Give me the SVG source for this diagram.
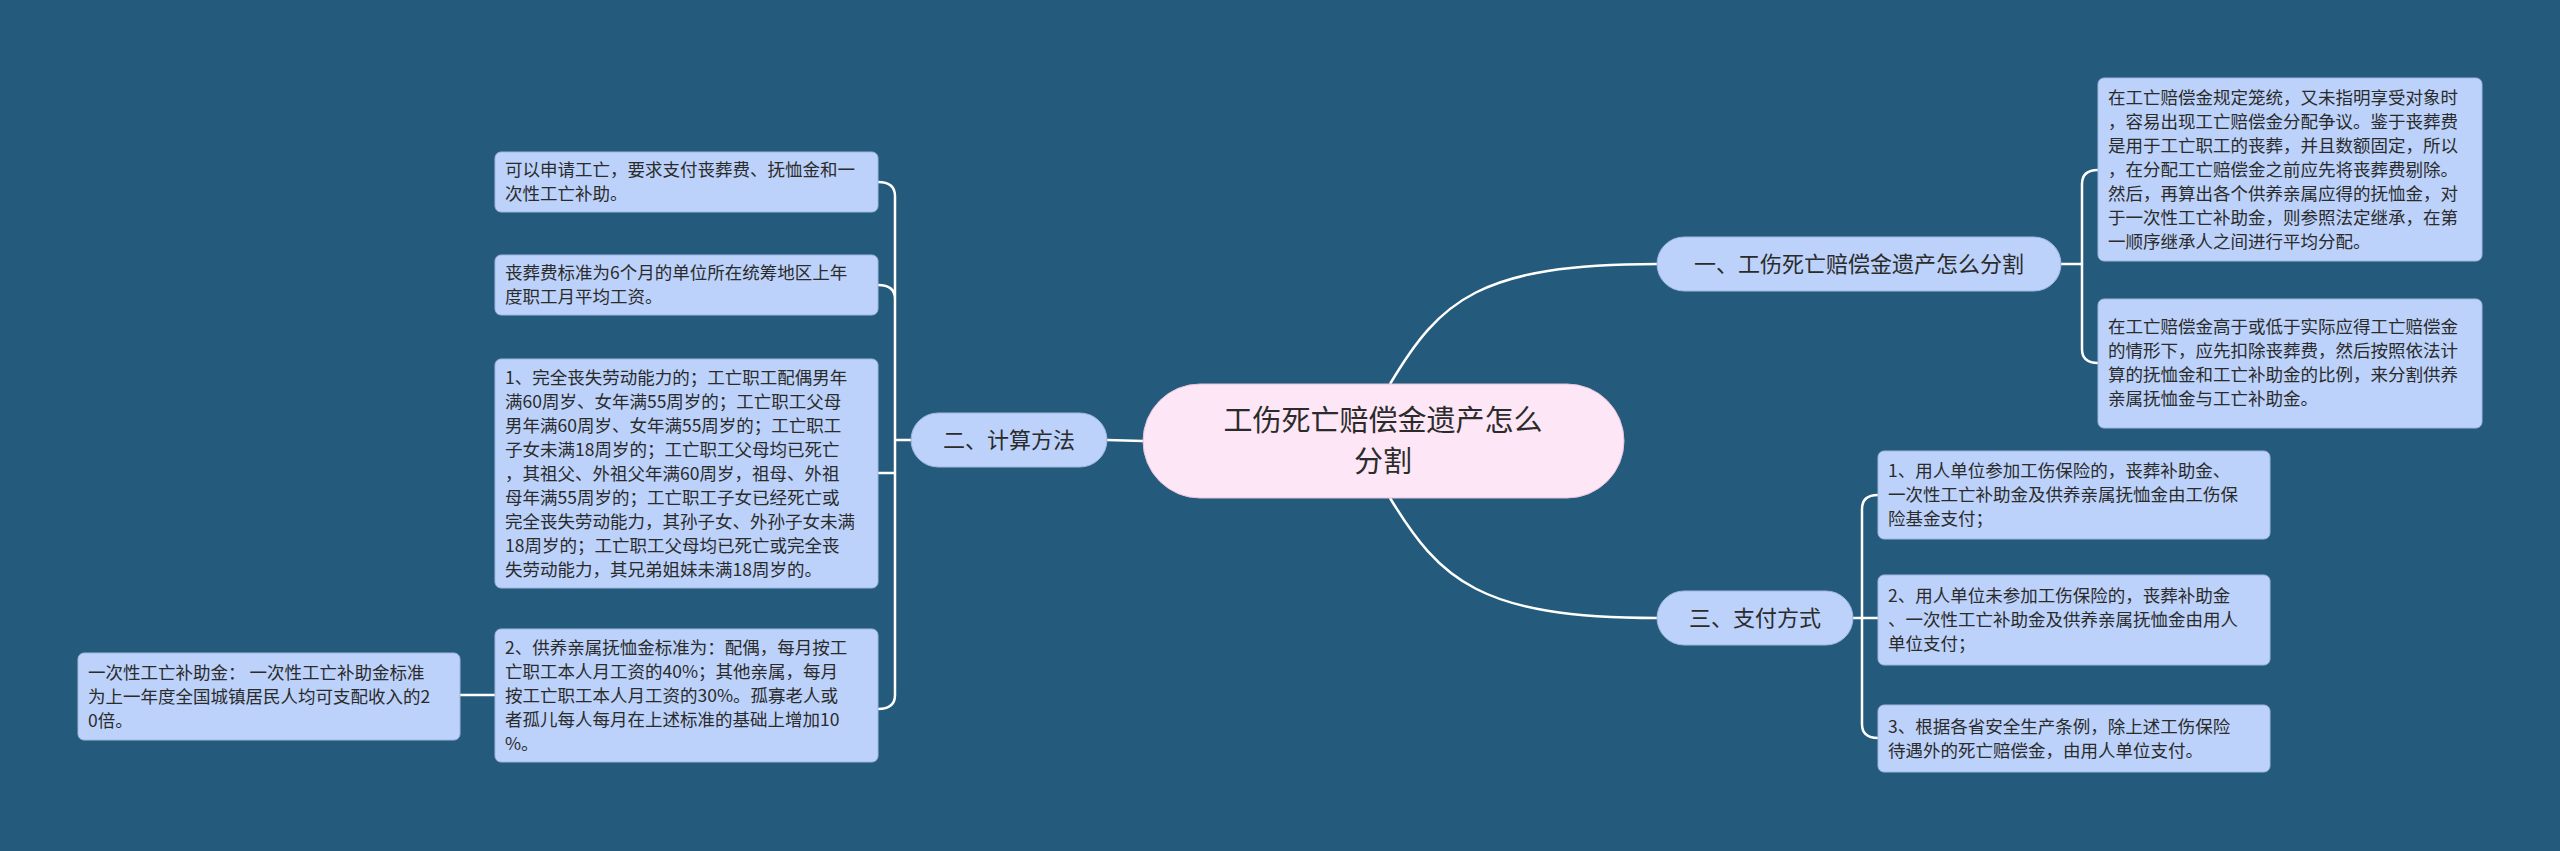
<svg xmlns="http://www.w3.org/2000/svg" width="2560" height="851" viewBox="0 0 2560 851">
<style>
.t{font-family:"Noto Sans CJK SC",sans-serif;font-size:17.5px;fill:#2b2b2b}
.p{font-family:"Noto Sans CJK SC",sans-serif;font-size:22px;fill:#2b2b2b}
.b{fill:#bcd2fa;stroke:#9fb6e0;stroke-width:1}
.c{fill:none;stroke:#ffffff;stroke-width:2.5}
</style>
<rect width="2560" height="851" fill="#245a7b"/>
<g id="connectors">
<path class="c" d="M1390,384 C1440,300 1480,264 1657,264"/>
<path class="c" d="M1390,498 C1440,580 1480,618 1657,618"/>
<path class="c" d="M1143,441 L1107,440"/>
<path class="c" d="M2061,264 H2082 M2082,264 V184 Q2082,170 2098,170 M2082,264 V349 Q2082,363 2098,363"/>
<path class="c" d="M1853,618 H1862 M1862,618 V509 Q1862,495 1878,495 M1862,618 V710 M1862,618 V724 Q1862,738 1878,738 M1862,618 H1878"/>
<path class="c" d="M911,440 H895 M895,440 V196 Q895,182 878,182 M895,440 V299 Q895,285 878,285 M895,440 V695 Q895,709 878,709 M895,440 V473 H878"/>
<path class="c" d="M495,695 H460"/>
</g>
<g id="center">
<rect x="1143" y="384" width="481" height="114" rx="57" fill="#fde6f5" stroke="#e9c4dc"/>
<text class="p" style="font-size:29px" x="1383" y="431" text-anchor="middle">工伤死亡赔偿金遗产怎么</text>
<text class="p" style="font-size:29px" x="1383" y="472" text-anchor="middle">分割</text>
</g>
<g id="b1">
<rect class="b" x="1657" y="237" width="404" height="54" rx="27"/>
<text class="p" x="1859" y="272" text-anchor="middle">一、工伤死亡赔偿金遗产怎么分割</text>
</g>
<g id="b1c1">
<rect class="b" x="2098" y="78" width="384" height="183" rx="6"/>
<text class="t" x="2108" y="104">在工亡赔偿金规定笼统，又未指明享受对象时</text>
<text class="t" x="2108" y="128">，容易出现工亡赔偿金分配争议。鉴于丧葬费</text>
<text class="t" x="2108" y="152">是用于工亡职工的丧葬，并且数额固定，所以</text>
<text class="t" x="2108" y="176">，在分配工亡赔偿金之前应先将丧葬费剔除。</text>
<text class="t" x="2108" y="200">然后，再算出各个供养亲属应得的抚恤金，对</text>
<text class="t" x="2108" y="224">于一次性工亡补助金，则参照法定继承，在第</text>
<text class="t" x="2108" y="248">一顺序继承人之间进行平均分配。</text>
</g>
<g id="b1c2">
<rect class="b" x="2098" y="299" width="384" height="129" rx="6"/>
<text class="t" x="2108" y="333">在工亡赔偿金高于或低于实际应得工亡赔偿金</text>
<text class="t" x="2108" y="357">的情形下，应先扣除丧葬费，然后按照依法计</text>
<text class="t" x="2108" y="381">算的抚恤金和工亡补助金的比例，来分割供养</text>
<text class="t" x="2108" y="405">亲属抚恤金与工亡补助金。</text>
</g>
<g id="b3">
<rect class="b" x="1657" y="591" width="196" height="54" rx="27"/>
<text class="p" x="1755" y="626" text-anchor="middle">三、支付方式</text>
</g>
<g id="b3c1">
<rect class="b" x="1878" y="451" width="392" height="88" rx="6"/>
<text class="t" x="1888" y="477">1、用人单位参加工伤保险的，丧葬补助金、</text>
<text class="t" x="1888" y="501">一次性工亡补助金及供养亲属抚恤金由工伤保</text>
<text class="t" x="1888" y="525">险基金支付；</text>
</g>
<g id="b3c2">
<rect class="b" x="1878" y="575" width="392" height="90" rx="6"/>
<text class="t" x="1888" y="602">2、用人单位未参加工伤保险的，丧葬补助金</text>
<text class="t" x="1888" y="626">、一次性工亡补助金及供养亲属抚恤金由用人</text>
<text class="t" x="1888" y="650">单位支付；</text>
</g>
<g id="b3c3">
<rect class="b" x="1878" y="705" width="392" height="67" rx="6"/>
<text class="t" x="1888" y="733">3、根据各省安全生产条例，除上述工伤保险</text>
<text class="t" x="1888" y="757">待遇外的死亡赔偿金，由用人单位支付。</text>
</g>
<g id="b2">
<rect class="b" x="911" y="413" width="196" height="54" rx="27"/>
<text class="p" x="1009" y="448" text-anchor="middle">二、计算方法</text>
</g>
<g id="b2c1">
<rect class="b" x="495" y="152" width="383" height="60" rx="6"/>
<text class="t" x="505" y="176">可以申请工亡，要求支付丧葬费、抚恤金和一</text>
<text class="t" x="505" y="200">次性工亡补助。</text>
</g>
<g id="b2c2">
<rect class="b" x="495" y="255" width="383" height="60" rx="6"/>
<text class="t" x="505" y="279">丧葬费标准为6个月的单位所在统筹地区上年</text>
<text class="t" x="505" y="303">度职工月平均工资。</text>
</g>
<g id="b2c3">
<rect class="b" x="495" y="359" width="383" height="229" rx="6"/>
<text class="t" x="505" y="384">1、完全丧失劳动能力的；工亡职工配偶男年</text>
<text class="t" x="505" y="408">满60周岁、女年满55周岁的；工亡职工父母</text>
<text class="t" x="505" y="432">男年满60周岁、女年满55周岁的；工亡职工</text>
<text class="t" x="505" y="456">子女未满18周岁的；工亡职工父母均已死亡</text>
<text class="t" x="505" y="480">，其祖父、外祖父年满60周岁，祖母、外祖</text>
<text class="t" x="505" y="504">母年满55周岁的；工亡职工子女已经死亡或</text>
<text class="t" x="505" y="528">完全丧失劳动能力，其孙子女、外孙子女未满</text>
<text class="t" x="505" y="552">18周岁的；工亡职工父母均已死亡或完全丧</text>
<text class="t" x="505" y="576">失劳动能力，其兄弟姐妹未满18周岁的。</text>
</g>
<g id="b2c4">
<rect class="b" x="495" y="629" width="383" height="133" rx="6"/>
<text class="t" x="505" y="654">2、供养亲属抚恤金标准为：配偶，每月按工</text>
<text class="t" x="505" y="678">亡职工本人月工资的40%；其他亲属，每月</text>
<text class="t" x="505" y="702">按工亡职工本人月工资的30%。孤寡老人或</text>
<text class="t" x="505" y="726">者孤儿每人每月在上述标准的基础上增加10</text>
<text class="t" x="505" y="750">%。</text>
</g>
<g id="b2c4c1">
<rect class="b" x="78" y="653" width="382" height="87" rx="6"/>
<text class="t" x="88" y="679">一次性工亡补助金： 一次性工亡补助金标准</text>
<text class="t" x="88" y="703">为上一年度全国城镇居民人均可支配收入的2</text>
<text class="t" x="88" y="727">0倍。</text>
</g>
</svg>
